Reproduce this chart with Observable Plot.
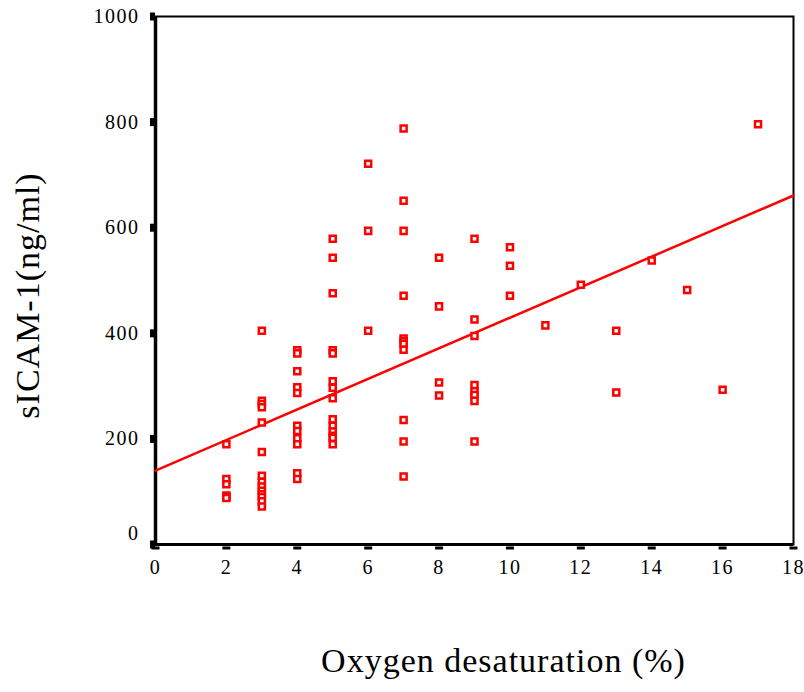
<!DOCTYPE html>
<html>
<head>
<meta charset="utf-8">
<script src="https://cdn.jsdelivr.net/npm/d3@7"></script>
<script src="https://cdn.jsdelivr.net/npm/@observablehq/plot@0.6"></script>
<style>
  html, body { margin: 0; padding: 0; background: #fff; }
  svg, svg text { font-family: "Liberation Serif", "Times New Roman", Times, serif !important; }
  svg [aria-label$="tick label"] text { letter-spacing: 1.5px; }
  svg g.title text { letter-spacing: 1px; }
</style>
</head>
<body>
<div id="chart"></div>
<script>
// Oxygen desaturation (%) per subject
const desat = [
  2,2,2,2,2,2,
  3,3,3,3,3,3,3,3,3,3,3,3,3,3,
  4,4,4,4,4,4,4,4,4,4,4,
  5,5,5,5,5,5,5,5,5,5,5,5,5,5,
  6,6,6,
  7,7,7,7,7,7,7,7,7,7,7,
  8,8,8,8,
  9,9,9,9,9,9,9,9,
  10,10,10,
  11,12,13,13,14,15,16,17
];
// sICAM-1 (ng/ml) per subject
const sicam = [
  190,124,114,93,90,88,
  405,272,266,260,231,175,130,119,110,102,95,90,82,72,
  368,362,328,298,287,225,215,201,190,135,124,
  579,543,476,368,362,309,297,277,237,225,214,206,202,190,
  721,594,405,
  788,651,594,471,390,385,380,369,236,195,129,
  543,451,307,282,
  579,426,395,302,290,283,272,195,
  563,528,471,
  415,492,405,288,538,482,293,796
];
// fitted regression line end points
const fitX = [0, 18];
const fitY = [140, 661];

const xTicks = [0,2,4,6,8,10,12,14,16,18];
const yTicks = [200,400,600,800,1000];
const yZeroTick = [0];
const xTitle = "Oxygen desaturation (%)";
const yTitle = "sICAM-1(ng/ml)";

const points = desat.map((d, i) => ({x: d, y: sicam[i]}));
const fit = fitX.map((d, i) => ({x: d, y: fitY[i]}));

const red = "#ff0000";
const fmt = d => String(d);

const chart = Plot.plot({
  width: 804,
  height: 692,
  marginLeft: 155,
  marginRight: 11,
  marginTop: 16,
  marginBottom: 148,
  style: {background: "#fff", color: "#000"},
  x: {domain: [0, 18]},
  y: {domain: [0, 1000]},
  marks: [
    Plot.frame({stroke: "#000", strokeWidth: 2}),
    Plot.ruleX([0], {stroke: "#000", strokeWidth: 3.5}),
    Plot.ruleY([0], {stroke: "#000", strokeWidth: 3}),
    Plot.axisY({ticks: yTicks, tickFormat: fmt, tickSize: 5, tickPadding: 11, strokeWidth: 8, fontSize: 20, label: null}),
    Plot.axisY({ticks: yZeroTick, tickSize: 5, strokeWidth: 8, label: null, text: null}),
    Plot.axisY({ticks: yZeroTick, tickFormat: fmt, fontSize: 20, label: null, tickSize: 0, tickPadding: 16, dy: -11, stroke: null}),
    Plot.axisX({ticks: xTicks, tickFormat: fmt, tickSize: 3, tickPadding: 10, strokeWidth: 8, dy: 2.5, fontSize: 20, label: null}),
    Plot.line(fit, {x: "x", y: "y", stroke: red, strokeWidth: 2.5}),
    Plot.dot(points, {x: "x", y: "y", symbol: "square", r: 3.4, stroke: red, strokeWidth: 2.5, fill: "#fff"}),
    Plot.text([yTitle], {frameAnchor: "left", textAnchor: "middle", lineAnchor: "middle", dx: -127, dy: 15, rotate: -90, fontSize: 34, fill: "#000", className: "title"}),
    Plot.text([xTitle], {frameAnchor: "bottom", textAnchor: "middle", dx: 29, dy: 127, fontSize: 34, fill: "#000", className: "title"})
  ]
});
document.getElementById("chart").appendChild(chart);
</script>
</body>
</html>
